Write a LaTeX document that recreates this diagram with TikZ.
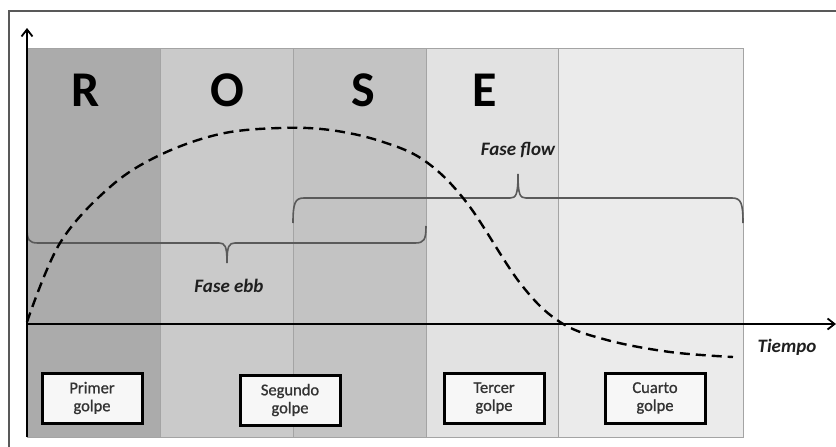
\documentclass[tikz,border=0pt]{standalone}
\usepackage{fontspec}
\setmainfont{Carlito}
\newfontfamily\boxfont[BoldFont=Carlito, BoldFeatures={FakeBold=0.9}]{Carlito}
\usetikzlibrary{arrows.meta}

\definecolor{bandR}{HTML}{ABABAB}
\definecolor{bandO}{HTML}{CACACA}
\definecolor{bandS}{HTML}{C3C3C3}
\definecolor{bandE}{HTML}{E2E2E2}
\definecolor{bandF}{HTML}{EBEBEB}
\definecolor{bandedge}{HTML}{A4A4A4}
\definecolor{bracegray}{HTML}{5A5A5A}

\tikzset{
  band/.style={draw=bandedge, line width=1pt},
  letter/.style={font=\fontsize{50}{50}\selectfont\bfseries, anchor=base},
  axis/.style={line width=2.2pt, -{Straight Barb[length=7pt,width=11pt,line width=1.8pt]}},
  phase/.style={font=\fontsize{19}{19}\selectfont\bfseries\itshape, text=black!88},
  bracepath/.style={draw=bracegray, line width=1.6pt},
  hitbox/.style={draw=black, line width=3pt, fill=white!97!black, minimum width=100pt,
    minimum height=50pt, inner sep=0pt, align=center, text=black!80,
    font=\boxfont\bfseries\fontsize{16.5}{18}\selectfont},
  curve/.style={line width=2.4pt, dash pattern=on 10pt off 6pt}
}

\begin{document}
\begin{tikzpicture}[x=1pt,y=-1pt]
\useasboundingbox (0,0) rectangle (836,447);

% outer frame
\draw[draw=black!65, line width=1.3pt] (9,447) -- (9,11) -- (836,11);

% phase bands
\path[band, fill=bandR] (27,48) rectangle (160,437);
\path[band, fill=bandO] (160,48) rectangle (293,437);
\path[band, fill=bandS] (293,48) rectangle (426,437);
\path[band, fill=bandE] (426,48) rectangle (558,437);
\path[band, fill=bandF] (558,48) rectangle (743,437);

% band letters
\node[letter] (lR) at (86,106) {R};
\node[letter] (lO) at (227,106) {O};
\node[letter] (lS) at (363,106) {S};
\node[letter] (lE) at (485,106) {E};

% ebb brace (opens upward, tip down)
\coordinate (ebbL) at (27,228);
\coordinate (ebbTip) at (227,263);
\coordinate (ebbR) at (426,226);
\draw[bracepath] (ebbL) .. controls (27,240) and (29,243) .. (38,243)
  -- (219,243) .. controls (225,243) and (227,246) .. (ebbTip)
  .. controls (227,246) and (229,243) .. (235,243)
  -- (415,243) .. controls (424,243) and (426,240) .. (ebbR);

% flow brace (opens downward, tip up)
\coordinate (flowL) at (293,223);
\coordinate (flowTip) at (518,174);
\coordinate (flowR) at (743,223);
\draw[bracepath] (flowL) .. controls (293,203) and (295,198) .. (304,198)
  -- (510,198) .. controls (516,198) and (518,195) .. (flowTip)
  .. controls (518,195) and (520,198) .. (526,198)
  -- (732,198) .. controls (741,198) and (743,203) .. (flowR);

\node[phase] (ebb) at (229,286) {Fase ebb};
\node[phase] (flow) at (518,150) {Fase flow};

% axes
\coordinate (origin) at (27,437);
\coordinate (ytip) at (27,28);
\coordinate (xstart) at (27,324);
\coordinate (xtip) at (836,324);
\draw[axis] (origin) -- (ytip);
\draw[axis] (xstart) -- (xtip);
\node[phase] (time) at (787,347) {Tiempo};

% dashed intensity curve
\draw[curve] plot[smooth, tension=0.6] coordinates {
  (27,322) (60,243) (110,187) (160,155) (220,134) (280,128) (330,130)
  (380,141) (425,161) (467,203) (520,283) (560,322) (607,340) (670,352) (733,357)};

% stroke boxes
\node[hitbox] (g1) at (92,398) {Primer\\golpe};
\node[hitbox] (g2) at (290,400) {Segundo\\golpe};
\node[hitbox] (g3) at (494,398) {Tercer\\golpe};
\node[hitbox] (g4) at (655,398) {Cuarto\\golpe};
\end{tikzpicture}
\end{document}
